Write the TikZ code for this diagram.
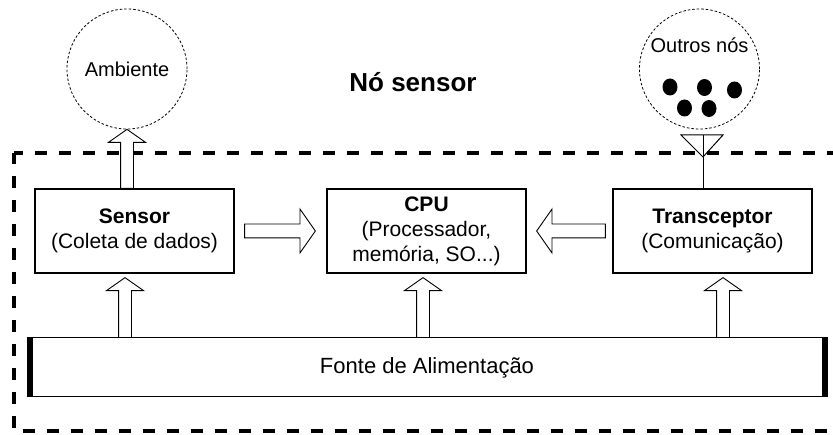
\documentclass[tikz,border=0pt]{standalone}
\usepackage{fontspec}
\setmainfont{Liberation Sans}
\usetikzlibrary{positioning, calc, shapes.arrows}

\tikzset{
  bloco/.style={draw, line width=1.3pt, minimum width=199pt, minimum height=84pt,
    align=center, inner sep=2pt, font=\fontsize{21}{25}\selectfont},
  nuvem/.style={draw, circle, minimum size=120pt, line width=0.8pt,
    dash pattern=on 2.5pt off 2pt, font=\fontsize{20}{24}\selectfont},
  borda/.style={line width=4pt, dash pattern=on 12pt off 12pt},
  seta/.style={draw, fill=white, single arrow, single arrow tip angle=110,
    single arrow head extend=12pt, inner sep=6pt, outer sep=0pt,
    line width=0.9pt, sloped, allow upside down, pos=0, anchor=tail},
  larga/.style={single arrow head extend=15pt, inner sep=6.5pt}
}
\newcommand{\blocoseta}[3][]{%
  \path let \p1=($(#3)-(#2)$), \n1={veclen(\x1,\y1)} in
    (#2) -- node[seta, #1, minimum height=\n1] {} (#3);}

\begin{document}
\begin{tikzpicture}[x=1pt,y=-1pt]
  \clip (0,0) rectangle (833,435);
  % ambiente e outros nos
  \node[nuvem] (amb) at (127,69) {Ambiente};
  \node[nuvem] (out) at (699.5,69) {};
  \node[anchor=base, font=\fontsize{20}{24}\selectfont] (outlbl) at ([yshift=16pt]out.center) {Outros nós};
  \foreach \x/\y in {670/87, 704.5/87.5, 734.5/90, 684.5/108, 709/108.5}
    \fill (\x,\y) ellipse [x radius=7.5, y radius=8.5];
  \node[anchor=base, font=\fontsize{26}{30}\selectfont\bfseries] (tit) at (413,92) {Nó sensor};
  % limite do no
  \draw[borda, dash phase=3pt] (14,153) -- (850,153);
  \draw[borda, dash phase=1pt] (14,153) -- (14,431) -- (850,431);
  % blocos
  \node[bloco] (sen) at (134.5,231) {\textbf{Sensor}\\(Coleta de dados)};
  \node[bloco] (cpu) at (426.5,231) {\textbf{CPU}\\(Processador,\\memória, SO...)};
  \node[bloco] (tra) at (712.5,231) {\textbf{Transceptor}\\(Comunicação)};
  \node[draw, line width=1pt, minimum width=800pt, minimum height=59pt,
    font=\fontsize{22}{26}\selectfont] (fon) at (427,367.5) {Fonte de Alimentação};
  \fill (fon.north west) rectangle ([xshift=6pt]fon.south west);
  \fill (fon.north east) rectangle ([xshift=-6pt]fon.south east);
  % antena
  \coordinate (ant) at (703,135);
  \draw[line width=1pt] (ant) -- (ant |- tra.north);
  \draw[line width=1pt] ([xshift=-22pt]ant) -- ([xshift=20pt]ant) -- ([yshift=-22pt]ant) -- cycle;
  % setas
  \coordinate (a0) at (amb.south |- sen.north);
  \coordinate (p1) at ([xshift=-9.5pt,yshift=-4pt]sen.south);
  \coordinate (p2) at ([xshift=-3.5pt,yshift=-4pt]cpu.south);
  \coordinate (p3) at ([xshift=10.5pt,yshift=-4pt]tra.south);
  \coordinate (q1) at (p1 |- fon.north);
  \coordinate (q2) at (p2 |- fon.north);
  \coordinate (q3) at (p3 |- fon.north);
  \coordinate (h1) at ([xshift=10pt]sen.east);
  \coordinate (h2) at ([xshift=-11pt]cpu.west);
  \coordinate (h3) at ([xshift=-7pt]tra.west);
  \coordinate (h4) at ([xshift=10pt]cpu.east);
  \blocoseta{a0}{amb.south}
  \blocoseta{q1}{p1}
  \blocoseta{q2}{p2}
  \blocoseta{q3}{p3}
  \blocoseta[larga]{h1}{h2}
  \blocoseta[larga]{h3}{h4}
\end{tikzpicture}
\end{document}
